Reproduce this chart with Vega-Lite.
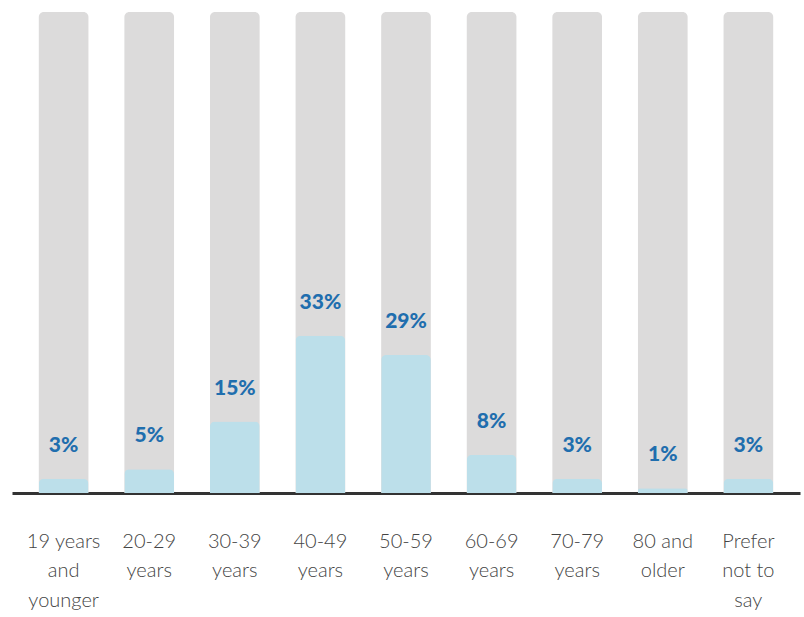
{
  "$schema": "https://vega.github.io/schema/vega-lite/v6.json",
  "width": 788,
  "height": 481,
  "padding": {"left": 12, "top": 12, "right": 4, "bottom": 124},
  "autosize": {"type": "none"},
  "background": "white",
  "config": {"view": {"stroke": null}},
  "data": {
    "values": [
      {"age": "19 years and younger", "share": 0.03},
      {"age": "20-29 years", "share": 0.05},
      {"age": "30-39 years", "share": 0.15},
      {"age": "40-49 years", "share": 0.33},
      {"age": "50-59 years", "share": 0.29},
      {"age": "60-69 years", "share": 0.08},
      {"age": "70-79 years", "share": 0.03},
      {"age": "80 and older", "share": 0.01},
      {"age": "Prefer not to say", "share": 0.03}
    ]
  },
  "encoding": {
    "x": {
      "field": "age",
      "type": "nominal",
      "sort": null,
      "title": null,
      "scale": {"paddingInner": 0.42, "paddingOuter": 0.313},
      "axis": {
        "labelAngle": 0,
        "ticks": false,
        "domainColor": "#333333",
        "domainWidth": 3,
        "labelPadding": 38,
        "labelFont": "Lato",
        "labelFontWeight": 300,
        "labelFontSize": 20,
        "labelColor": "#444444",
        "labelLineHeight": 29.5,
        "labelBaseline": "top",
        "labelLimit": 200,
        "labelExpr": "({'19 years and younger': ['19 years','and','younger'], '20-29 years': ['20-29','years'], '30-39 years': ['30-39','years'], '40-49 years': ['40-49','years'], '50-59 years': ['50-59','years'], '60-69 years': ['60-69','years'], '70-79 years': ['70-79','years'], '80 and older': ['80 and','older'], 'Prefer not to say': ['Prefer','not to','say']})[datum.value]"
      }
    }
  },
  "layer": [
    {
      "mark": {"type": "bar", "color": "#dcdbdb", "cornerRadiusTopLeft": 5, "cornerRadiusTopRight": 5},
      "encoding": {
        "y": {"datum": 1.01, "type": "quantitative", "scale": {"domain": [0, 1.01]}, "axis": null}
      }
    },
    {
      "mark": {"type": "bar", "color": "#bcdfea", "cornerRadiusTopLeft": 5, "cornerRadiusTopRight": 5},
      "encoding": {
        "y": {"field": "share", "type": "quantitative", "scale": {"domain": [0, 1.01]}, "axis": null}
      }
    },
    {
      "mark": {"type": "text", "color": "#1f6eae", "font": "Lato", "fontWeight": 900, "fontSize": 21, "baseline": "alphabetic", "dy": -27},
      "encoding": {
        "y": {"field": "share", "type": "quantitative", "scale": {"domain": [0, 1.01]}, "axis": null},
        "text": {"field": "share", "type": "quantitative", "format": ".0%"}
      }
    }
  ]
}
